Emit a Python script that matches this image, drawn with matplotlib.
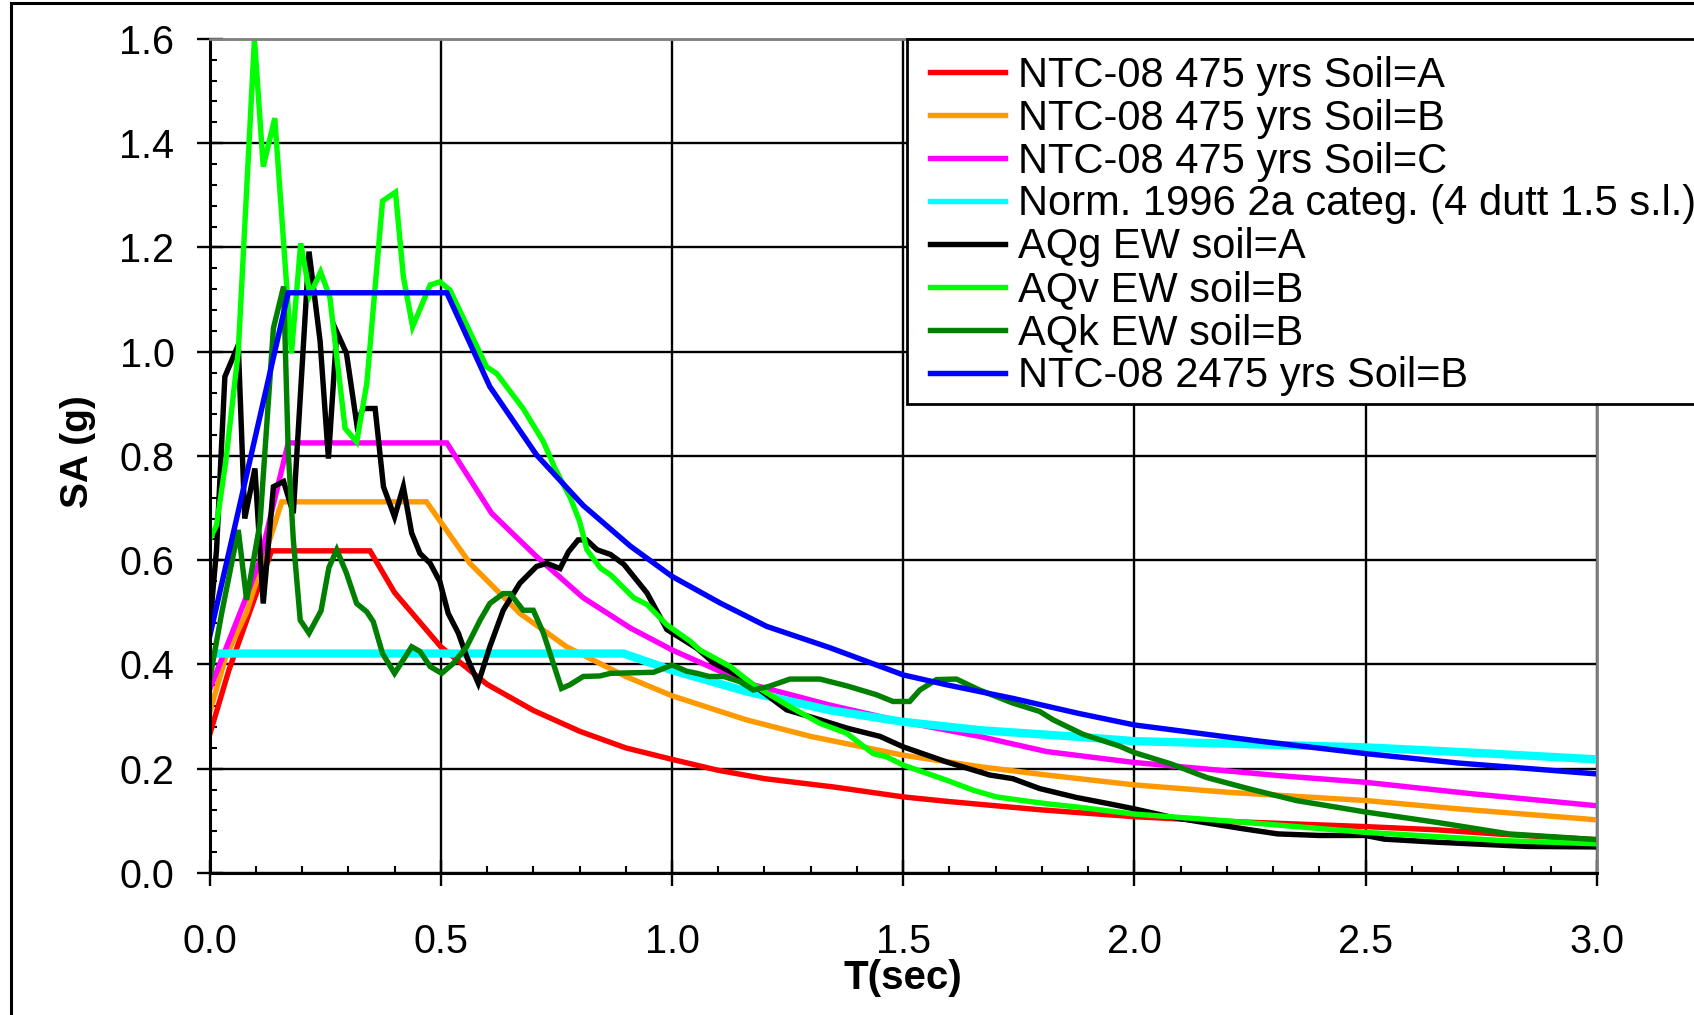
import matplotlib
matplotlib.use("Agg")
import matplotlib.pyplot as plt
from matplotlib.ticker import MultipleLocator, FormatStrFormatter
from matplotlib.patches import Rectangle

plt.rcParams['font.family'] = ['Liberation Sans', 'DejaVu Sans']

# ---------------- data ----------------
red_T = [0, 0.042, 0.134, 0.347, 0.40, 0.5, 0.6, 0.7, 0.8, 0.9, 1.0, 1.1, 1.2, 1.35,
         1.5, 1.6, 1.8, 2.0, 2.2, 2.5, 2.65, 2.8, 3.0]
red_SA = [0.265, 0.39, 0.618, 0.618, 0.538, 0.434, 0.362, 0.312, 0.272, 0.240, 0.218,
          0.197, 0.181, 0.165, 0.146, 0.137, 0.121, 0.108, 0.099, 0.089, 0.083, 0.074, 0.064]

orange_T = [0, 0.035, 0.08, 0.116, 0.156, 0.469, 0.563, 0.671, 0.772, 0.9, 1.0, 1.16,
            1.3, 1.5, 1.665, 1.8, 2.0, 2.2, 2.5, 2.7, 3.0]
orange_SA = [0.308, 0.415, 0.50, 0.60, 0.712, 0.712, 0.594, 0.498, 0.434, 0.377, 0.340,
             0.294, 0.262, 0.226, 0.204, 0.189, 0.169, 0.155, 0.139, 0.123, 0.102]

magenta_T = [0, 0.044, 0.073, 0.109, 0.17, 0.513, 0.61, 0.707, 0.808, 0.91, 1.0, 1.162,
             1.342, 1.5, 1.665, 1.81, 2.0, 2.31, 2.5, 2.73, 3.0]
magenta_SA = [0.352, 0.45, 0.515, 0.60, 0.825, 0.825, 0.69, 0.607, 0.528, 0.47, 0.428,
              0.364, 0.322, 0.29, 0.262, 0.233, 0.212, 0.187, 0.174, 0.152, 0.129]

cyan_T = [0, 0.895, 1.0, 1.162, 1.342, 1.5, 1.666, 1.882, 2.0, 2.25, 2.5, 2.75, 3.0]
cyan_SA = [0.421, 0.421, 0.389, 0.348, 0.312, 0.29, 0.274, 0.261, 0.253, 0.247, 0.241,
           0.230, 0.218]

aqg_T = [0.0, 0.015, 0.033, 0.062, 0.076, 0.098, 0.116, 0.138, 0.16, 0.181, 0.215, 0.239,
         0.257, 0.275, 0.296, 0.318, 0.332, 0.358, 0.376, 0.40, 0.419, 0.437, 0.455, 0.477,
         0.498, 0.516, 0.538, 0.556, 0.581, 0.606, 0.635, 0.671, 0.707, 0.729, 0.758, 0.776,
         0.797, 0.815, 0.838, 0.867, 0.896, 0.946, 0.989, 1.018, 1.054, 1.09, 1.162, 1.248,
         1.32, 1.378, 1.45, 1.5, 1.594, 1.687, 1.737, 1.795, 1.874, 1.95, 2.0, 2.08, 2.157,
         2.234, 2.31, 2.40, 2.5, 2.54, 2.655, 2.85, 3.0]
aqg_SA = [0.47, 0.62, 0.952, 1.013, 0.68, 0.776, 0.517, 0.741, 0.751, 0.69, 1.192, 1.02,
          0.795, 1.038, 0.997, 0.863, 0.891, 0.891, 0.741, 0.683, 0.741, 0.652, 0.613, 0.594,
          0.559, 0.498, 0.46, 0.415, 0.364, 0.434, 0.504, 0.556, 0.588, 0.594, 0.584, 0.616,
          0.639, 0.639, 0.62, 0.611, 0.592, 0.537, 0.467, 0.451, 0.431, 0.403, 0.37, 0.313,
          0.294, 0.278, 0.262, 0.242, 0.213, 0.188, 0.181, 0.162, 0.145, 0.132, 0.123, 0.107,
          0.096, 0.085, 0.075, 0.072, 0.072, 0.065, 0.059, 0.051, 0.050]

aqv_T = [0.0, 0.015, 0.035, 0.062, 0.097, 0.116, 0.141, 0.177, 0.197, 0.217, 0.24, 0.26,
         0.293, 0.318, 0.34, 0.374, 0.402, 0.419, 0.439, 0.477, 0.498, 0.52, 0.599, 0.621,
         0.678, 0.722, 0.747, 0.78, 0.80, 0.816, 0.845, 0.867, 0.917, 0.946, 0.989, 1.04,
         1.06, 1.126, 1.176, 1.255, 1.32, 1.378, 1.435, 1.464, 1.5, 1.594, 1.651, 1.701,
         1.75, 1.809, 1.881, 2.0, 2.2, 2.5, 2.8, 3.0]
aqv_SA = [0.64, 0.667, 0.79, 1.0, 1.60, 1.355, 1.448, 0.997, 1.208, 1.109, 1.153, 1.105,
          0.853, 0.827, 0.939, 1.289, 1.306, 1.144, 1.048, 1.128, 1.134, 1.118, 0.971, 0.958,
          0.891, 0.827, 0.776, 0.72, 0.675, 0.62, 0.585, 0.572, 0.528, 0.515, 0.476, 0.444,
          0.428, 0.396, 0.361, 0.319, 0.287, 0.268, 0.229, 0.223, 0.207, 0.178, 0.159, 0.146,
          0.140, 0.133, 0.126, 0.113, 0.100, 0.078, 0.062, 0.056]

aqk_T = [0.0, 0.026, 0.062, 0.08, 0.109, 0.138, 0.16, 0.17, 0.181, 0.196, 0.215, 0.241,
         0.258, 0.275, 0.296, 0.318, 0.34, 0.354, 0.374, 0.40, 0.437, 0.455, 0.477, 0.502,
         0.527, 0.556, 0.585, 0.606, 0.635, 0.65, 0.678, 0.70, 0.722, 0.761, 0.779, 0.808,
         0.844, 0.867, 0.96, 0.975, 1.0, 1.032, 1.054, 1.08, 1.112, 1.147, 1.176, 1.21,
         1.255, 1.32, 1.378, 1.442, 1.478, 1.514, 1.536, 1.572, 1.615, 1.665, 1.737, 1.795,
         1.824, 1.889, 1.966, 2.0, 2.08, 2.157, 2.25, 2.35, 2.5, 2.655, 2.81, 3.0]
aqk_SA = [0.37, 0.498, 0.658, 0.524, 0.671, 1.045, 1.125, 0.81, 0.64, 0.485, 0.46, 0.503,
          0.586, 0.62, 0.575, 0.517, 0.501, 0.482, 0.421, 0.383, 0.434, 0.425, 0.396, 0.383,
          0.402, 0.434, 0.485, 0.517, 0.536, 0.536, 0.504, 0.504, 0.46, 0.354, 0.361, 0.377,
          0.378, 0.383, 0.385, 0.39, 0.399, 0.387, 0.383, 0.377, 0.377, 0.367, 0.351, 0.358,
          0.372, 0.372, 0.359, 0.342, 0.329, 0.329, 0.351, 0.371, 0.372, 0.351, 0.326, 0.31,
          0.294, 0.266, 0.244, 0.231, 0.209, 0.183, 0.161, 0.139, 0.117, 0.097, 0.075, 0.064]

blue_T = [0, 0.17, 0.513, 0.606, 0.707, 0.808, 0.91, 1.0, 1.104, 1.205, 1.342, 1.5, 1.594,
          1.737, 1.88, 2.0, 2.27, 2.5, 2.7, 3.0]
blue_SA = [0.453, 1.113, 1.113, 0.933, 0.802, 0.705, 0.627, 0.569, 0.518, 0.473, 0.432,
           0.38, 0.361, 0.335, 0.306, 0.284, 0.253, 0.229, 0.211, 0.19]

labels = ["NTC-08 475 yrs Soil=A", "NTC-08 475 yrs Soil=B", "NTC-08 475 yrs Soil=C",
          "Norm. 1996 2a categ. (4 dutt 1.5 s.l.)", "AQg EW soil=A", "AQv EW soil=B",
          "AQk EW soil=B", "NTC-08 2475 yrs Soil=B"]
x_ticks = [0.0, 0.5, 1.0, 1.5, 2.0, 2.5, 3.0]
y_ticks = [0.0, 0.2, 0.4, 0.6, 0.8, 1.0, 1.2, 1.4, 1.6]

# ---------------- figure ----------------
W, H = 1694, 1015
fig = plt.figure(figsize=(W / 100, H / 100), dpi=100)
ax = fig.add_axes([209.6 / W, 1 - 873 / H, (1596.8 - 209.6) / W, (873 - 38.9) / H])

series = [
    (red_T, red_SA, '#FF0000', 3.9),
    (orange_T, orange_SA, '#FF9900', 3.9),
    (magenta_T, magenta_SA, '#FF00FF', 3.9),
    (cyan_T, cyan_SA, '#00FFFF', 6.0),
    (aqg_T, aqg_SA, '#000000', 3.9),
    (aqv_T, aqv_SA, '#00FF00', 3.9),
    (aqk_T, aqk_SA, '#008000', 3.9),
    (blue_T, blue_SA, '#0000FF', 3.9),
]
for (t, sa, c, lw), lab in zip(series, labels):
    ax.plot(t, sa, color=c, lw=lw, label=lab, solid_joinstyle='miter')

ax.set_xlim(0, 3.0)
ax.set_ylim(0, 1.6)
ax.set_xticks(x_ticks)
ax.set_yticks(y_ticks)
ax.xaxis.set_major_formatter(FormatStrFormatter('%.1f'))
ax.yaxis.set_major_formatter(FormatStrFormatter('%.1f'))
ax.xaxis.set_minor_locator(MultipleLocator(0.1))
ax.yaxis.set_minor_locator(MultipleLocator(0.04))

ax.grid(True, which='major', color='black', lw=1.7)
ax.set_axisbelow(True)

ax.tick_params(axis='both', which='major', direction='inout', length=18.7, width=1.7,
               labelsize=28.5, color='black')
ax.tick_params(axis='x', which='major', pad=27)
ax.tick_params(axis='y', which='major', pad=16)
ax.tick_params(axis='both', which='minor', direction='in', length=5, width=1.5)

for s in ['left', 'bottom']:
    ax.spines[s].set_color('black')
    ax.spines[s].set_linewidth(2.2)
for s in ['top', 'right']:
    ax.spines[s].set_color('#808080')
    ax.spines[s].set_linewidth(2.0)

fig.text(903 / W, 1 - 978 / H, "T(sec)", ha='center', va='center',
         fontsize=29, fontweight='bold')
fig.text(78 / W, 1 - 452 / H, "SA (g)", ha='center', va='center', rotation=90,
         fontsize=28, fontweight='bold')

# legend frame drawn separately (white box with black edge, running past right edge)
leg_left, leg_top, leg_bottom = 907, 38.9, 404
ax.add_patch(Rectangle((leg_left / W, 1 - leg_bottom / H), 1.0, (leg_bottom - leg_top) / H,
                       transform=fig.transFigure, clip_on=False, zorder=4,
                       facecolor='white', edgecolor='black', lw=2.0))

leg = ax.legend(loc='upper left', bbox_to_anchor=((leg_left + 10.8) / W, 1 - (leg_top + 4.3) / H),
                bbox_transform=fig.transFigure, borderaxespad=0, fontsize=30,
                frameon=False, borderpad=0.3, labelspacing=0.07,
                handlelength=1.8, handletextpad=0.3)
leg.set_zorder(5)
for h in leg.get_lines():
    h.set_linewidth(3.9)

fig.patches.append(Rectangle((11 / W, -0.05), 1.2, 1 - 3 / H + 0.05,
                             transform=fig.transFigure, fill=False, lw=2.2,
                             ec='black', zorder=10))

fig.savefig("out.png", dpi=100)
